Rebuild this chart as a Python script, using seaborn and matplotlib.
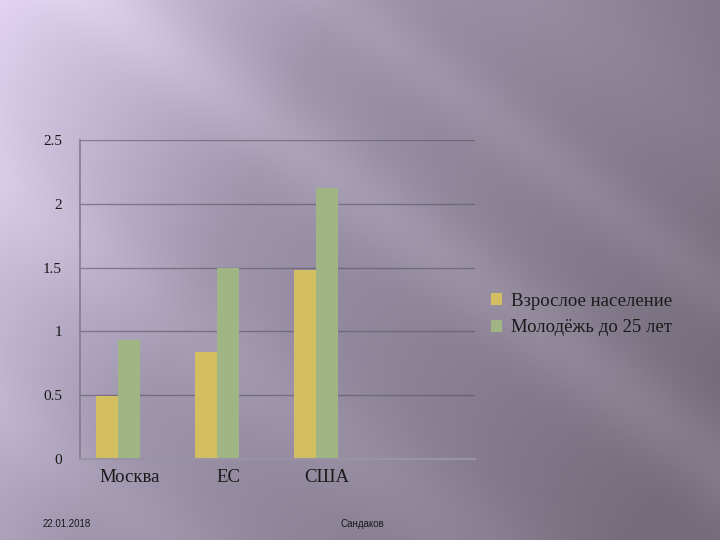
import numpy as np
import pandas as pd
import matplotlib
matplotlib.use("Agg")
import matplotlib.pyplot as plt
import seaborn as sns
from matplotlib.patches import Patch

# ---- data ----
categories = ["Москва", "ЕС", "США", ""]
series_names = ["Взрослое население", "Молодёжь до 25 лет", " "]
adults = [0.49, 0.84, 1.48, np.nan]
youth = [0.93, 1.50, 2.12, np.nan]
empty_series = [np.nan, np.nan, np.nan, np.nan]
yticks = [0, 0.5, 1, 1.5, 2, 2.5]
ytick_labels = ["0", "0.5", "1", "1.5", "2", "2.5"]
footer_date = "22.01.2018"
footer_author = "Сандаков"

df = pd.DataFrame({
    "cat": categories * 3,
    "series": [series_names[0]] * 4 + [series_names[1]] * 4 + [series_names[2]] * 4,
    "value": adults + youth + empty_series,
})

sns.set_theme(style="white")
plt.rcParams["font.family"] = ["Liberation Serif", "DejaVu Serif"]

W, H = 720, 540
fig = plt.figure(figsize=(7.2, 5.4), dpi=100)

# ---- background gradient ----
bg_ax = fig.add_axes([0, 0, 1, 1], zorder=-10)
yy, xx = np.mgrid[0:H, 0:W].astype(float)
xn, yn = xx / W, yy / H
t = np.clip(0.95 * xn + 0.35 * yn, 0, 1.2)
light = np.array([224, 210, 240]) / 255
mid = np.array([158, 148, 172]) / 255
dark = np.array([116, 108, 122]) / 255
t1 = np.clip(t / 0.45, 0, 1)[..., None]
t2 = np.clip((t - 0.45) / 0.75, 0, 1)[..., None]
img = np.where(t[..., None] < 0.45, light * (1 - t1) + mid * t1, mid * (1 - t2) + dark * t2)
# soft diagonal light streaks
d = (xx * 0.6 - yy * 0.8)
for c, w, a in [(60, 40, 0.06), (200, 30, 0.04), (-150, 50, 0.04), (-330, 40, 0.03), (330, 60, 0.025)]:
    img = img + a * np.exp(-((d - c) / w) ** 2)[..., None]
img = np.clip(img, 0, 1)
bg_ax.imshow(img, aspect="auto", extent=[0, 1, 0, 1], origin="upper")
bg_ax.set_axis_off()

# ---- chart ----
left, right = 80 / W, 475 / W
bottom, top = 1 - 459 / H, 1 - 140 / H
ax = fig.add_axes([left, bottom, right - left, top - bottom])
ax.set_facecolor("none")

palette = ["#d3be62", "#a1b584", "#888888"]
sns.barplot(data=df, x="cat", y="value", hue="series", palette=palette,
            width=0.67, saturation=1, ax=ax, legend=False, errorbar=None,
            order=categories, hue_order=series_names, linewidth=0)

ax.set_xlim(-0.5, 3.5)
ax.set_ylim(0, 2.5)
ax.set_yticks(yticks)
ax.set_yticklabels(ytick_labels, fontsize=11)
ax.set_xticks([0, 1, 2, 3])
ax.set_xticklabels(categories, fontsize=13.5, color="#1a1a1a")
ax.set_xlabel("")
ax.set_ylabel("")
ax.grid(axis="y", color="#5a5565", linewidth=1.0, alpha=0.6)
ax.grid(axis="x", visible=False)
ax.set_axisbelow(True)
for s in ["top", "right"]:
    ax.spines[s].set_visible(False)
ax.spines["left"].set_color("#857e90")
ax.spines["bottom"].set_color("#9a93a5")
ax.spines["bottom"].set_linewidth(1.5)
ax.tick_params(axis="y", length=4, color="#5a5565", pad=9, labelcolor="#1a1a1a")
ax.tick_params(axis="x", length=0, pad=7)
ax.set_xticks([-0.5, 0.5, 1.5, 2.5, 3.5], minor=True)
ax.tick_params(axis="x", which="minor", length=4, color="#9a93a5", direction="in")

handles = [Patch(facecolor=palette[0], edgecolor="none"),
           Patch(facecolor=palette[1], edgecolor="none")]
fig.legend(handles, series_names[:2], loc="upper left",
           bbox_to_anchor=(474 / W, 1 - 276 / H), frameon=False,
           fontsize=13.5, handlelength=0.6, handleheight=0.6, handletextpad=0.45,
           labelspacing=0.5, labelcolor="#1a1a1a")

fig.text(43 / W, 1 - 524 / H, footer_date, fontsize=7, family=["Liberation Sans", "DejaVu Sans"],
         color="#1a1a1a", va="center", ha="left")
fig.text(362 / W, 1 - 524 / H, footer_author, fontsize=7, family=["Liberation Sans", "DejaVu Sans"],
         color="#1a1a1a", va="center", ha="center")

fig.savefig("out.png", dpi=100)
